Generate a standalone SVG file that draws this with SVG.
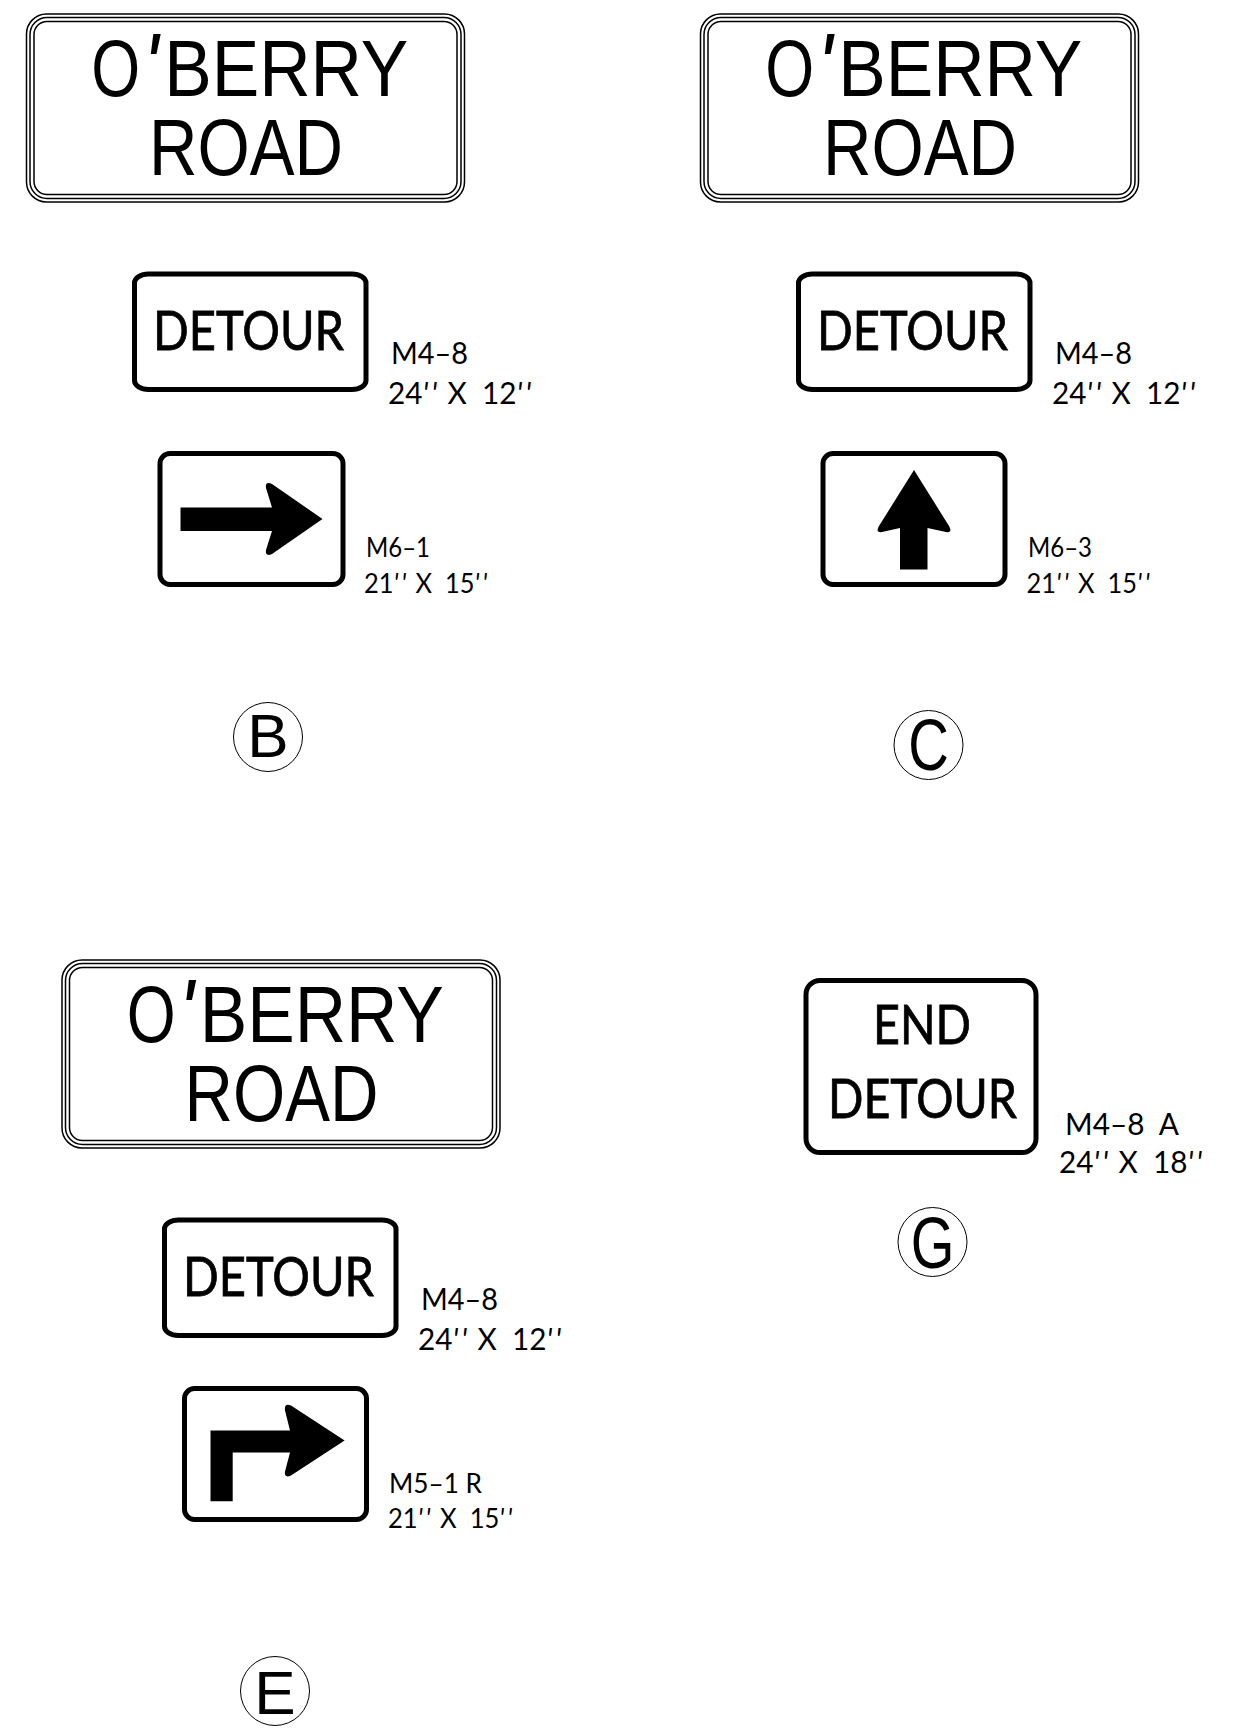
<svg xmlns="http://www.w3.org/2000/svg" width="1240" height="1734" viewBox="0 0 1240 1734">
<style>
text{font-family:"Liberation Sans",Arial,sans-serif;fill:#000}
.big{font-size:80px}
.ap{font-style:italic;font-size:92px}
.lg{font-family:Lato,"Liberation Sans",sans-serif;font-size:55px;stroke:#000;stroke-width:.8}
.lb{font-family:Lato,"Liberation Sans",sans-serif;font-size:30px}
.ls{font-family:Lato,"Liberation Sans",sans-serif;font-size:27px}
.q{font-style:italic;letter-spacing:3px}
.ltr{font-size:62px}
.frame{fill:none;stroke:#000;stroke-width:1.5}
.pl{fill:#fff;stroke:#000;stroke-width:5}
.c{fill:#fff;stroke:#000;stroke-width:1}
.ar{fill:#000}
</style>
<rect width="1240" height="1734" fill="#fff"/>
<g id="sign-B-name">
<rect class="frame" x="26.5" y="14" width="438" height="188" rx="20"/>
<rect class="frame" x="30" y="17.5" width="431" height="181" rx="17"/>
<rect class="frame" x="34" y="21.5" width="423" height="173" rx="13"/>
<text class="big" transform="translate(93,96) scale(.89,1)"><tspan x="-2" textLength="55" lengthAdjust="spacingAndGlyphs">O</tspan><tspan class="ap" x="56" dy="2">'</tspan><tspan x="80" dy="-2">BERRY</tspan></text>
<text class="big" x="149" y="175" textLength="194" lengthAdjust="spacingAndGlyphs">ROAD</text>
</g>
<g id="sign-B-detour" transform="translate(1,0)">
<rect class="pl" x="133.5" y="274" width="231.500" height="115.500" rx="14" ry="9"/>
<text class="lg" x="152" y="350" textLength="191" lengthAdjust="spacingAndGlyphs">DETOUR</text>
<text class="lb" x="390" y="364" textLength="77" lengthAdjust="spacingAndGlyphs">M4–8</text>
<text class="lb" x="387" y="404" textLength="146" lengthAdjust="spacingAndGlyphs" xml:space="preserve">24<tspan class="q">''</tspan> X  12<tspan class="q">''</tspan></text>
</g>
<g id="sign-B-arrow">
<rect class="pl" x="160" y="453.5" width="183" height="131" rx="10"/>
<path class="ar" d="M180.5 507.5H272L266 488Q265 481 272 484L322.5 519L272 554Q265 557 266 550L272 531H180.5Z"/>
<text class="ls" x="366" y="557" textLength="64" lengthAdjust="spacingAndGlyphs">M6–1</text>
<text class="ls" x="364" y="592.500" textLength="126" lengthAdjust="spacingAndGlyphs" xml:space="preserve">21<tspan class="q">''</tspan> X  15<tspan class="q">''</tspan></text>
</g>
<g id="tag-B">
<circle class="c" cx="268" cy="737" r="34.5"/>
<text class="ltr" x="268" y="757" text-anchor="middle">B</text>
</g>
<g id="sign-C-name" transform="translate(674,0)">
<rect class="frame" x="26.5" y="14" width="438" height="188" rx="20"/>
<rect class="frame" x="30" y="17.5" width="431" height="181" rx="17"/>
<rect class="frame" x="34" y="21.5" width="423" height="173" rx="13"/>
<text class="big" transform="translate(93,96) scale(.89,1)"><tspan x="-2" textLength="55" lengthAdjust="spacingAndGlyphs">O</tspan><tspan class="ap" x="56" dy="2">'</tspan><tspan x="80" dy="-2">BERRY</tspan></text>
<text class="big" x="149" y="175" textLength="194" lengthAdjust="spacingAndGlyphs">ROAD</text>
</g>
<g id="sign-C-detour" transform="translate(665,0)">
<rect class="pl" x="133.5" y="274" width="231.500" height="115.500" rx="14" ry="9"/>
<text class="lg" x="152" y="350" textLength="191" lengthAdjust="spacingAndGlyphs">DETOUR</text>
<text class="lb" x="390" y="364" textLength="77" lengthAdjust="spacingAndGlyphs">M4–8</text>
<text class="lb" x="387" y="404" textLength="146" lengthAdjust="spacingAndGlyphs" xml:space="preserve">24<tspan class="q">''</tspan> X  12<tspan class="q">''</tspan></text>
</g>
<g id="sign-C-arrow" transform="translate(662,0)">
<rect class="pl" x="161" y="453.5" width="182" height="131" rx="10"/>
<path class="ar" d="M238 569.5V528L220 532Q213 533 217 526L252 470L287 526Q291 533 284 532L265.500 528V569.5Z"/>
<text class="ls" x="366" y="557" textLength="64" lengthAdjust="spacingAndGlyphs">M6–3</text>
<text class="ls" x="364.500" y="592.500" textLength="126" lengthAdjust="spacingAndGlyphs" xml:space="preserve">21<tspan class="q">''</tspan> X  15<tspan class="q">''</tspan></text>
</g>
<g id="tag-C">
<circle class="c" cx="928.500" cy="745" r="34.5"/>
<text class="ltr" transform="translate(928.500,770) scale(.78,1)" font-size="72" style="font-size:72px" text-anchor="middle">C</text>
</g>
<g id="sign-E-name" transform="translate(35.5,946)">
<rect class="frame" x="26.5" y="14" width="438" height="188" rx="20"/>
<rect class="frame" x="30" y="17.5" width="431" height="181" rx="17"/>
<rect class="frame" x="34" y="21.5" width="423" height="173" rx="13"/>
<text class="big" transform="translate(93,96) scale(.89,1)"><tspan x="-2" textLength="55" lengthAdjust="spacingAndGlyphs">O</tspan><tspan class="ap" x="56" dy="2">'</tspan><tspan x="80" dy="-2">BERRY</tspan></text>
<text class="big" x="149" y="175" textLength="194" lengthAdjust="spacingAndGlyphs">ROAD</text>
</g>
<g id="sign-E-detour" transform="translate(31,946)">
<rect class="pl" x="133.5" y="274" width="231.500" height="115.500" rx="14" ry="9"/>
<text class="lg" x="152" y="350" textLength="191" lengthAdjust="spacingAndGlyphs">DETOUR</text>
<text class="lb" x="390" y="364" textLength="77" lengthAdjust="spacingAndGlyphs">M4–8</text>
<text class="lb" x="387" y="404" textLength="146" lengthAdjust="spacingAndGlyphs" xml:space="preserve">24<tspan class="q">''</tspan> X  12<tspan class="q">''</tspan></text>
</g>
<g id="sign-E-arrow">
<rect class="pl" x="184.5" y="1388.500" width="182" height="131" rx="10"/>
<path class="ar" transform="translate(0,-4.500)" d="M210.500 1505.800V1435H290L285 1415Q284 1407 291 1410L344.600 1445L291 1480Q284 1483 285 1476L290 1457H232.700V1505.800Z"/>
<text class="ls" x="389" y="1492.500" textLength="93" lengthAdjust="spacingAndGlyphs" xml:space="preserve">M5–1 R</text>
<text class="ls" x="388" y="1527.500" textLength="127" lengthAdjust="spacingAndGlyphs" xml:space="preserve">21<tspan class="q">''</tspan> X  15<tspan class="q">''</tspan></text>
</g>
<g id="tag-E">
<circle class="c" cx="275" cy="1691" r="34.5"/>
<text class="ltr" x="275" y="1714" text-anchor="middle">E</text>
</g>
<g id="sign-G">
<rect class="pl" x="806" y="980.500" width="230" height="172" rx="14"/>
<text class="lg" x="873" y="1044" textLength="98" lengthAdjust="spacingAndGlyphs">END</text>
<text class="lg" x="828" y="1118" textLength="189" lengthAdjust="spacingAndGlyphs">DETOUR</text>
<text class="lb" x="1065" y="1135" textLength="114" lengthAdjust="spacingAndGlyphs" xml:space="preserve">M4–8  A</text>
<text class="lb" x="1059" y="1173" textLength="146" lengthAdjust="spacingAndGlyphs" xml:space="preserve">24<tspan class="q">''</tspan> X  18<tspan class="q">''</tspan></text>
</g>
<g id="tag-G">
<circle class="c" cx="932.500" cy="1242" r="34.5"/>
<text class="ltr" transform="translate(932.500,1268) scale(.78,1)" style="font-size:72px" text-anchor="middle">G</text>
</g>
<g id="connectors"/>
</svg>
